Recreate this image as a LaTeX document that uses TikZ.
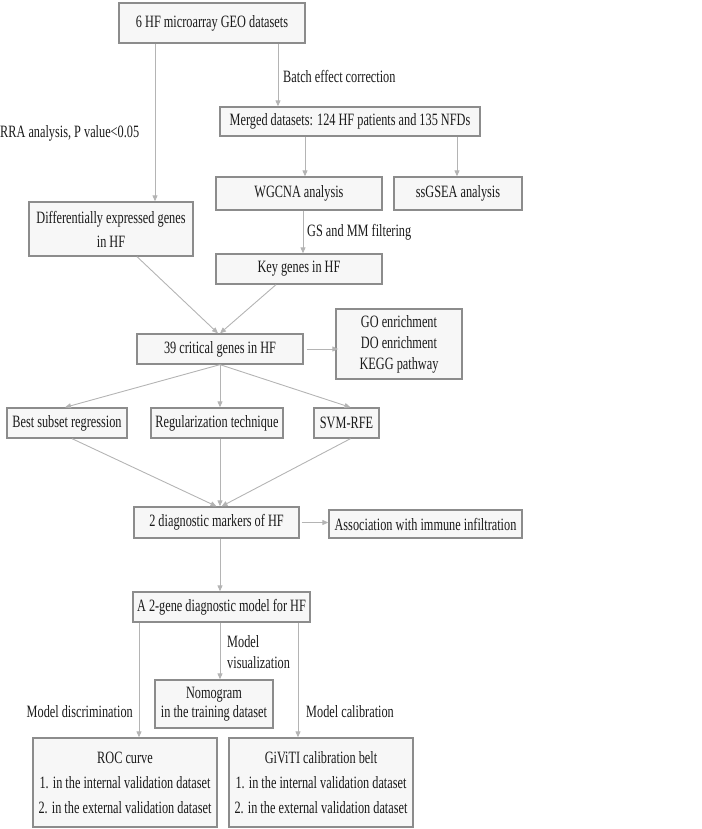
\documentclass[tikz,border=0pt]{standalone}
\usepackage{fontspec}
\setmainfont{Liberation Serif}[FakeStretch=0.71]
\usetikzlibrary{arrows.meta}
\definecolor{boxline}{HTML}{8C8C8C}
\definecolor{boxfill}{HTML}{F7F7F7}
\definecolor{arrcol}{HTML}{B4B4B4}
\definecolor{txt}{HTML}{1A1A1A}
\begin{document}
\begin{tikzpicture}[x=1pt,y=-1pt,
  box/.style={draw=boxline, fill=boxfill, line width=1.3pt, inner sep=0pt, text=txt, align=center, font=\fontsize{17.3}{20}\selectfont},
  lbl/.style={inner sep=0pt, text=txt, font=\fontsize{17.3}{20}\selectfont},
  arr/.style={draw=arrcol, line width=0.9pt, -{Triangle[length=6pt,width=5pt]}}]
\useasboundingbox (0,0) rectangle (701,829);
\node[box, minimum width=186pt, minimum height=40pt] (b1) at (212,23) {6 HF microarray GEO datasets};
\node[box, minimum width=260pt, minimum height=29pt] (merged) at (350,121.5) {Merged datasets: 124 HF patients and 135 NFDs};
\node[box, minimum width=166pt, minimum height=33pt] (wgcna) at (299,193.5) {WGCNA analysis};
\node[box, minimum width=128pt, minimum height=33pt] (ssgsea) at (458,193.5) {ssGSEA analysis};
\node[box, minimum width=164pt, minimum height=54pt, font=\fontsize{17.3}{24}\selectfont] (deg) at (111,229) {Differentially expressed genes\\in HF};
\node[box, minimum width=166pt, minimum height=30pt] (key) at (299,269) {Key genes in HF};
\node[box, minimum width=166pt, minimum height=30pt] (c39) at (220,349) {39 critical genes in HF};
\node[box, minimum width=126pt, minimum height=70pt, font=\fontsize{17.3}{21}\selectfont] (go) at (399,344) {GO enrichment\\DO enrichment\\KEGG pathway};
\node[box, minimum width=120pt, minimum height=30pt] (best) at (67,423) {Best subset regression};
\node[box, minimum width=132pt, minimum height=30pt] (reg) at (217,423) {Regularization technique};
\node[box, minimum width=65pt, minimum height=30pt] (svm) at (346.5,423) {SVM-RFE};
\node[box, minimum width=165pt, minimum height=31pt] (diag) at (216.5,522.5) {2 diagnostic markers of HF};
\node[box, minimum width=193pt, minimum height=28pt] (assoc) at (425.5,524) {Association with immune infiltration};
\node[box, minimum width=177pt, minimum height=30pt] (model) at (221.5,607) {A 2-gene diagnostic model for HF};
\node[box, minimum width=118pt, minimum height=48pt, font=\fontsize{17.3}{19}\selectfont] (nomo) at (214,704) {Nomogram\\in the training dataset};
\node[box, minimum width=184pt, minimum height=89pt, font=\fontsize{17.3}{25}\selectfont] (roc) at (125,782.5) {ROC curve\\1. in the internal validation dataset\\2. in the external validation dataset};
\node[box, minimum width=184pt, minimum height=89pt, font=\fontsize{17.3}{25}\selectfont] (giviti) at (321,782.5) {GiViTI calibration belt\\1. in the internal validation dataset\\2. in the external validation dataset};

\node[lbl, anchor=west] (lbatch) at (283,76) {Batch effect correction};
\node[lbl, anchor=west] (lrra) at (0,133) {RRA analysis, P value<0.05};
\node[lbl, anchor=west] (lgs) at (307,232) {GS and MM filtering};
\node[lbl, anchor=east] (ldisc) at (133,712) {Model discrimination};
\node[lbl, anchor=west, align=left, font=\fontsize{17.3}{21}\selectfont] (lvis) at (227,652) {Model\\visualization};
\node[lbl, anchor=west] (lcal) at (306,712) {Model calibration};

\draw[arr] ([xshift=-57pt]b1.south) -- ([xshift=44pt]deg.north);
\draw[arr] ([xshift=66pt]b1.south) -- ([xshift=-72pt]merged.north);
\draw[arr] ([xshift=-45pt]merged.south) -- ([xshift=6pt]wgcna.north);
\draw[arr] ([xshift=107pt]merged.south) -- ([xshift=-1pt]ssgsea.north);
\draw[arr] ([xshift=4pt]wgcna.south) -- ([xshift=4pt]key.north);
\draw[arr] ([xshift=26pt]deg.south) -- ([xshift=-2pt]c39.north);
\draw[arr] ([xshift=-23pt]key.south) -- (c39.north);
\draw[arr] ([xshift=3pt]c39.east) -- ([xshift=3pt]c39.east -| go.west);
\draw[arr] (c39.south) -- ([xshift=-2pt]best.north);
\draw[arr] (c39.south) -- ([xshift=3pt]reg.north);
\draw[arr] (c39.south) -- ([xshift=4pt]svm.north);
\draw[arr] ([xshift=5pt]best.south) -- (diag.north);
\draw[arr] ([xshift=3pt]reg.south) -- ([xshift=3.5pt]diag.north);
\draw[arr] ([xshift=4pt]svm.south) -- ([xshift=5pt]diag.north);
\draw[arr] ([xshift=2pt]diag.east) -- (diag.east -| assoc.west);
\draw[arr] ([xshift=3.5pt]diag.south) -- ([xshift=-1.5pt]model.north);
\draw[arr] ([xshift=-82.5pt]model.south) -- ([xshift=14pt]roc.north);
\draw[arr] ([xshift=-1.5pt]model.south) -- ([xshift=6pt]nomo.north);
\draw[arr] ([xshift=76.5pt]model.south) -- ([xshift=-23pt]giviti.north);
\end{tikzpicture}
\end{document}
